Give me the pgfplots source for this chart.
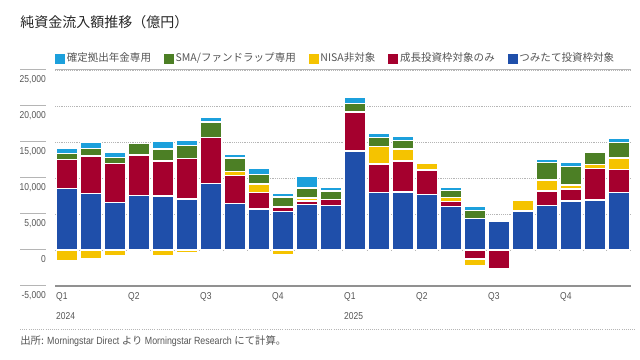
\documentclass[border=0pt]{standalone}
\usepackage{pgfplots}
\pgfplotsset{compat=1.18}
\usepackage{pgfplotstable}
\usepackage{fontspec}
\setmainfont{Liberation Sans}[FakeStretch=0.85]
\newfontfamily\jp{Noto Sans CJK JP}
\definecolor{cB}{HTML}{1F4FAA}
\definecolor{cR}{HTML}{A5002E}
\definecolor{cY}{HTML}{F5C300}
\definecolor{cG}{HTML}{4C7F25}
\definecolor{cC}{HTML}{1CA0DC}
\definecolor{txt}{HTML}{555555}
\definecolor{gl}{HTML}{B5B5B5}

\pgfplotstableread{
x B R Y G C Rn Yn
0 8570 4030 0 830 640 0 -1490
1 7880 5180 0 1010 830 0 -1150
2 6630 5420 0 780 700 0 -740
3 7540 5650 0 1600 0 0 0
4 7500 4860 0 1670 1010 0 -790
5 7080 5660 0 1750 790 0 -370
6 9260 6340 0 2180 650 0 -250
7 6490 3830 610 1850 550 0 0
8 5700 2260 1210 1340 780 0 0
9 5320 650 0 1390 520 0 -690
10 6360 450 410 1390 1570 0 0
11 6210 830 0 1160 510 0 0
12 13750 5420 0 1210 830 0 0
13 7960 3990 2400 1300 560 0 0
14 8060 4300 1670 1150 610 0 0
15 7740 3370 970 200 140 0 0
16 6010 700 610 920 470 0 0
17 4400 0 0 1060 550 -1250 -900
18 4030 0 0 0 0 -2540 0
19 5420 0 1530 0 0 -150 0
20 6150 2050 1520 2460 460 0 0
21 6810 1660 560 2600 550 0 0
22 6950 4340 560 1760 0 0 0
23 8010 3200 1570 2120 620 0 0
}\data

\pgfplotsset{
  base/.style={at={(41.25pt,55.5pt)}, anchor=south west, scale only axis,
    width=432pt, height=162pt, xmin=-0.5, xmax=23.5, ymin=-5000, ymax=25000,
    clip=false, ybar stacked, bar width=16pt},
  sq/.style={legend image code/.code={\fill[#1] (0pt,-3.4pt) rectangle (6.75pt,3.4pt);}},
  bs/.style={fill=#1, draw=white, line width=0.9pt, forget plot},
}

\begin{document}
\begin{tikzpicture}
\useasboundingbox (0pt,0pt) rectangle (480pt,270pt);
\begin{axis}[base,
  axis line style={draw=none}, major tick style={draw=none},
  scaled y ticks=false, scaled x ticks=false,
  ytick={-5000,0,5000,10000,15000,20000,25000},
  yticklabels={{-5,000},{0},{5,000},{10,000},{15,000},{20,000},{25,000}},
  yticklabel style={anchor=north east, inner sep=0pt, xshift=-6.75pt, yshift=-4pt, font=\fontsize{7.5}{9}\selectfont, text=txt},
  ymajorgrids, grid style={densely dotted, gl, line width=0.7pt},
  xtick={-0.46,2.54,5.54,8.54,11.54,14.54,17.54,20.54},
  xticklabels={Q1,Q2,Q3,Q4,Q1,Q2,Q3,Q4},
  xticklabel style={anchor=north west, inner sep=0pt, yshift=-4.5pt, font=\fontsize{7.5}{9}\selectfont, text=txt},
  legend columns=5,
  legend style={at={(0,1.054)}, anchor=west, draw=none, fill=none, inner sep=0pt,
    font=\jp\fontsize{7.9}{9}\selectfont, text=txt,
    nodes={inner sep=1.5pt},
    /tikz/every even column/.append style={column sep=8.3pt}},
]
\addlegendimage{sq=cC}\addlegendentry{確定拠出年金専用}
\addlegendimage{sq=cG}\addlegendentry{SMA/ファンドラップ専用}
\addlegendimage{sq=cY}\addlegendentry{NISA非対象}
\addlegendimage{sq=cR}\addlegendentry{成長投資枠対象のみ}
\addlegendimage{sq=cB}\addlegendentry{つみたて投資枠対象}
\addplot[bs=cB] table[x=x,y=B]{\data};
\addplot[bs=cR] table[x=x,y=R]{\data};
\addplot[bs=cY] table[x=x,y=Y]{\data};
\addplot[bs=cG] table[x=x,y=G]{\data};
\addplot[bs=cC] table[x=x,y=C]{\data};
\draw[gl, line width=0.75pt] (axis cs:-0.5,25000) -- (axis cs:23.5,25000);
\draw[gl!80!black, line width=1.1pt] (axis cs:-0.5,-5000) -- (axis cs:23.5,-5000);
\pgfplotsinvokeforeach{-5000,0,5000,10000,15000,20000,25000}{
  \draw[gl, line width=0.75pt] ([xshift=-26.25pt]axis cs:-0.5,#1) -- ([xshift=-6.75pt]axis cs:-0.5,#1);
}
\node[anchor=north west, inner sep=0pt, font=\fontsize{7.5}{9}\selectfont, text=txt] at ([yshift=-20pt]axis cs:-0.46,-5000) {2024};
\node[anchor=north west, inner sep=0pt, font=\fontsize{7.5}{9}\selectfont, text=txt] at ([yshift=-20pt]axis cs:11.54,-5000) {2025};
\end{axis}
\begin{axis}[base, hide axis]
\addplot[bs=cR] table[x=x,y=Rn]{\data};
\addplot[bs=cY] table[x=x,y=Yn]{\data};
\end{axis}
\node[anchor=west, inner sep=0pt, font=\jp\fontsize{10.5}{12}\selectfont, text=black!85] at (15pt,253.5pt) {純資金流入額推移（億円）};
\draw[gl, densely dotted, line width=0.6pt] (15pt,23.25pt) -- (477pt,23.25pt);
\node[anchor=west, inner sep=0pt, font=\fontsize{7.8}{9}\selectfont, text=txt] at (15pt,14.25pt) {{\jp 出所:} Morningstar Direct {\jp より} Morningstar Research {\jp にて計算。}};
\end{tikzpicture}
\end{document}
